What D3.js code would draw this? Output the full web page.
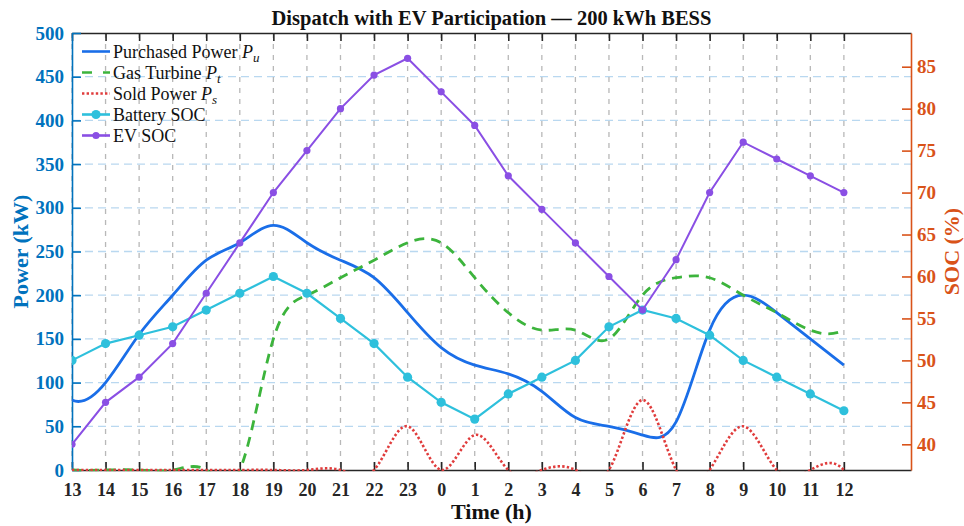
<!DOCTYPE html>
<html><head><meta charset="utf-8">
<script src="https://cdn.jsdelivr.net/npm/d3@7"></script>
<style>
body{margin:0;background:#fff}
svg{display:block}
text{font-family:"Liberation Serif","Times New Roman",serif}
</style>
</head><body>
<svg id="c" width="964" height="526"></svg>
<script>
// ---- data ----
const hours = [13,14,15,16,17,18,19,20,21,22,23,0,1,2,3,4,5,6,7,8,9,10,11,12];
const purchased = [80,100,155,200,240,260,280,260,240,220,180,140,120,110,90,60,50,40,55,160,200,180,150,120];
const gasTurbine = [0,0,0,0,0,0,150,200,220,240,260,260,220,180,160,160,150,200,220,220,200,180,160,160];
const soldPower = [0,0,0,0,0,0,0,0,0,0,50,0,40,0,0,0,0,80,0,0,50,0,0,0];
const batterySOC = [50,52,53,54,56,58,60,58,55,52,48,45,43,46,48,50,54,56,55,53,50,48,46,44];
const evSOC = [40,45,48,52,58,64,70,75,80,84,86,82,78,72,68,64,60,56,62,70,76,74,72,70];
const powerTicks = [0,50,100,150,200,250,300,350,400,450,500];
const socTicks = [40,45,50,55,60,65,70,75,80,85];

// ---- not-a-knot cubic spline curve for d3.line ----
function NAK(ctx){ this._ctx = ctx; }
NAK.prototype = {
  areaStart(){}, areaEnd(){},
  lineStart(){ this._x = []; this._y = []; },
  point(x, y){ this._x.push(+x); this._y.push(+y); },
  lineEnd(){
    const X = this._x, Y = this._y, n = X.length, c = this._ctx;
    if (!n) return;
    c.moveTo(X[0], Y[0]);
    if (n < 4) { for (let i = 1; i < n; i++) c.lineTo(X[i], Y[i]); return; }
    const h = []; for (let i = 0; i < n - 1; i++) h.push(X[i+1] - X[i]);
    const A = Array.from({length:n}, () => new Array(n).fill(0)), B = new Array(n).fill(0);
    A[0][0] = h[1]; A[0][1] = -(h[0] + h[1]); A[0][2] = h[0];
    for (let i = 1; i < n - 1; i++) {
      A[i][i-1] = h[i-1]; A[i][i] = 2 * (h[i-1] + h[i]); A[i][i+1] = h[i];
      B[i] = 6 * ((Y[i+1] - Y[i]) / h[i] - (Y[i] - Y[i-1]) / h[i-1]);
    }
    A[n-1][n-3] = h[n-2]; A[n-1][n-2] = -(h[n-3] + h[n-2]); A[n-1][n-1] = h[n-3];
    for (let k = 0; k < n; k++) {
      let p = k; for (let r = k + 1; r < n; r++) if (Math.abs(A[r][k]) > Math.abs(A[p][k])) p = r;
      [A[k], A[p]] = [A[p], A[k]]; [B[k], B[p]] = [B[p], B[k]];
      for (let r = k + 1; r < n; r++) {
        const f = A[r][k] / A[k][k]; if (!f) continue;
        for (let cc = k; cc < n; cc++) A[r][cc] -= f * A[k][cc];
        B[r] -= f * B[k];
      }
    }
    const M = new Array(n).fill(0);
    for (let k = n - 1; k >= 0; k--) {
      let s = B[k]; for (let cc = k + 1; cc < n; cc++) s -= A[k][cc] * M[cc];
      M[k] = s / A[k][k];
    }
    for (let i = 0; i < n - 1; i++) {
      const hi = h[i], sl = (Y[i+1] - Y[i]) / hi;
      const d0 = sl - hi * (2 * M[i] + M[i+1]) / 6;
      const d1 = sl + hi * (M[i] + 2 * M[i+1]) / 6;
      c.bezierCurveTo(X[i] + hi/3, Y[i] + d0*hi/3, X[i+1] - hi/3, Y[i+1] - d1*hi/3, X[i+1], Y[i+1]);
    }
  }
};
const curveNotAKnot = ctx => new NAK(ctx);

// ---- layout ----
const SERIF = '"Liberation Serif","Times New Roman",serif';
const L = 72, R = 911, T = 33, Bt = 470;
const svg = d3.select('#c');
const x = d3.scaleLinear().domain([0, 25]).range([L, R]);
const yL = d3.scaleLinear().domain([0, 500]).range([Bt, T]);
const yR = d3.scaleLinear().domain([36.937, 89.016]).range([Bt, T]);
const idx = d3.range(hours.length);

const cBlue = '#1a6ee8', cGreen = '#3cb43c', cRed = '#e03c3c', cCyan = '#2ec0dc', cPurple = '#8a4fe4';
const cLeft = '#0072BD', cRight = '#D95319', cAx = '#262626';

svg.append('rect').attr('width', 964).attr('height', 526).attr('fill', '#fff');

// grid
svg.append('g').selectAll('line').data(powerTicks.filter(v => v > 0 && v < 500)).join('line')
  .attr('x1', L).attr('x2', R).attr('y1', d => yL(d)).attr('y2', d => yL(d))
  .attr('stroke', '#b9d8f0').attr('stroke-width', 1.3).attr('stroke-dasharray', '8,5');
svg.append('g').selectAll('line').data(idx).join('line')
  .attr('x1', d => x(d)).attr('x2', d => x(d)).attr('y1', T).attr('y2', Bt)
  .attr('stroke', '#b8b8b8').attr('stroke-width', 1.3).attr('stroke-dasharray', '5,6');

// axes
const fmt = i => hours[i];
function styleAxis(g, col, fs) {
  g.style('font-family', SERIF);
  g.select('.domain').attr('stroke', col).attr('stroke-width', 1.6);
  g.selectAll('.tick line').attr('stroke', col).attr('stroke-width', 1.6);
  g.selectAll('.tick text').attr('fill', col).style('font-size', fs + 'px').style('font-weight', 'bold')
    .style('font-family', SERIF);
}
const gB = svg.append('g').attr('transform', `translate(0,${Bt})`)
  .call(d3.axisBottom(x).tickValues(idx).tickFormat(fmt).tickSizeInner(-8).tickSizeOuter(0).tickPadding(13));
const gT = svg.append('g').attr('transform', `translate(0,${T})`)
  .call(d3.axisTop(x).tickValues(idx).tickFormat('').tickSizeInner(-8).tickSizeOuter(0));
styleAxis(gB, cAx, 18); styleAxis(gT, cAx, 18);
const gL = svg.append('g').attr('transform', `translate(${L},0)`)
  .call(d3.axisLeft(yL).tickValues(powerTicks).tickSizeInner(-9).tickSizeOuter(0).tickPadding(8));
styleAxis(gL, cLeft, 19);
const gR = svg.append('g').attr('transform', `translate(${R},0)`)
  .call(d3.axisRight(yR).tickValues(socTicks).tickSizeInner(-9).tickSizeOuter(0).tickPadding(6));
styleAxis(gR, cRight, 19);

// clip
svg.append('clipPath').attr('id', 'pc').append('rect')
  .attr('x', L).attr('y', T).attr('width', R - L).attr('height', Bt - T + 1.2);

const plot = svg.append('g').attr('clip-path', 'url(#pc)');
const smooth = arr => d3.line().x(d => x(d)).y(d => yL(arr[d])).curve(curveNotAKnot)(idx);
const straight = arr => d3.line().x(d => x(d)).y(d => yR(arr[d]))(idx);

plot.append('path').attr('d', smooth(purchased)).attr('fill', 'none')
  .attr('stroke', cBlue).attr('stroke-width', 2.8);
plot.append('path').attr('d', smooth(gasTurbine)).attr('fill', 'none')
  .attr('stroke', cGreen).attr('stroke-width', 2.8).attr('stroke-dasharray', '10,7');
plot.append('path').attr('d', smooth(soldPower)).attr('fill', 'none')
  .attr('stroke', cRed).attr('stroke-width', 2.6).attr('stroke-dasharray', '2.4,2.2');

plot.append('path').attr('d', straight(batterySOC)).attr('fill', 'none')
  .attr('stroke', cCyan).attr('stroke-width', 2.2);
plot.append('g').selectAll('circle').data(idx).join('circle')
  .attr('cx', d => x(d)).attr('cy', d => yR(batterySOC[d])).attr('r', 4.6).attr('fill', cCyan);
plot.append('path').attr('d', straight(evSOC)).attr('fill', 'none')
  .attr('stroke', cPurple).attr('stroke-width', 2);
plot.append('g').selectAll('circle').data(idx).join('circle')
  .attr('cx', d => x(d)).attr('cy', d => yR(evSOC[d])).attr('r', 3.6).attr('fill', cPurple);

// legend
const leg = [
  {name: 'Purchased Power ', sym: 'P', sub: 'u', color: cBlue, dash: null, marker: 0},
  {name: 'Gas Turbine ', sym: 'P', sub: 't', color: cGreen, dash: '10,11', marker: 0},
  {name: 'Sold Power ', sym: 'P', sub: 's', color: cRed, dash: '2.4,2.2', marker: 0},
  {name: 'Battery SOC', color: cCyan, dash: null, marker: 4.6},
  {name: 'EV SOC', color: cPurple, dash: null, marker: 3.6}
];
const lg = svg.append('g');
leg.forEach((e, i) => {
  const cy = 51.5 + i * 21;
  lg.append('line').attr('x1', 82).attr('x2', 110).attr('y1', cy).attr('y2', cy)
    .attr('stroke', e.color).attr('stroke-width', 2.6).attr('stroke-dasharray', e.dash);
  if (e.marker) lg.append('circle').attr('cx', 96).attr('cy', cy).attr('r', e.marker).attr('fill', e.color);
  const t = lg.append('text').attr('x', 113).attr('y', cy + 6).style('font-size', '18px').attr('fill', '#111')
    .style('font-family', SERIF);
  t.append('tspan').text(e.name);
  if (e.sym) {
    t.append('tspan').attr('font-style', 'italic').text(e.sym);
    t.append('tspan').attr('font-style', 'italic').style('font-size', '13px').attr('dy', 4).text(e.sub);
  }
});

// titles
function label(sel, fs, col) {
  return sel.style('font-size', fs + 'px').style('font-weight', 'bold').style('font-family', SERIF)
    .attr('fill', col).attr('text-anchor', 'middle');
}
label(svg.append('text').attr('x', (L + R) / 2).attr('y', 25), 20.5, '#111')
  .text('Dispatch with EV Participation \u2014 200 kWh BESS');
label(svg.append('text').attr('x', (L + R) / 2).attr('y', 519), 22, '#111').text('Time (h)');
label(svg.append('text').attr('transform', `translate(28,${(T + Bt) / 2}) rotate(-90)`), 22, cLeft)
  .text('Power (kW)');
label(svg.append('text').attr('transform', `translate(959,${(T + Bt) / 2}) rotate(-90)`), 22, cRight)
  .text('SOC (%)');
</script>
</body></html>
